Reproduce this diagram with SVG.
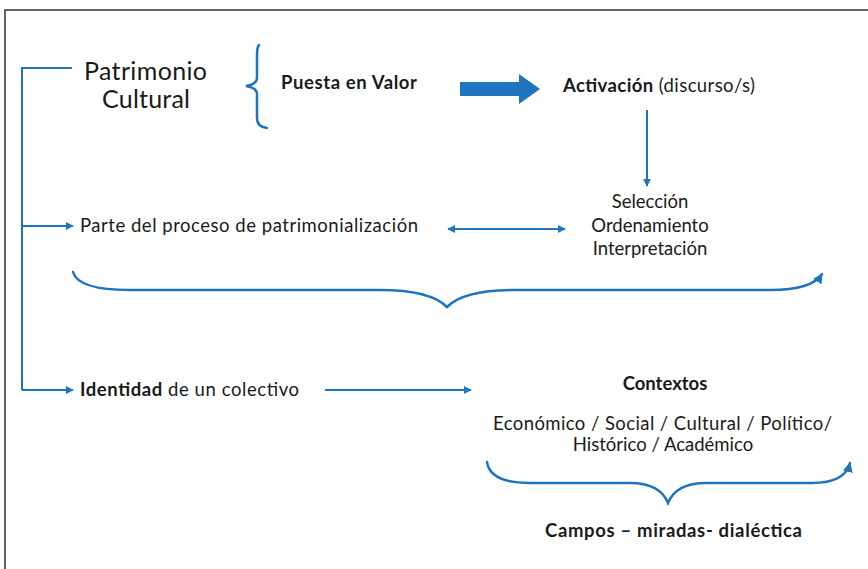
<svg xmlns="http://www.w3.org/2000/svg" width="868" height="569" viewBox="0 0 868 569">
<defs>
<style>
text{font-family:Lato,"Open Sans","Liberation Sans",sans-serif;fill:#1a1a1a;font-size:18.5px}
.b{font-weight:bold}
.big{font-size:25px}
.ln{fill:none;stroke:#1e75bd;stroke-width:2}
.br{fill:none;stroke:#1e75bd;stroke-width:2.5;stroke-linecap:round}
</style>
<marker id="ah" viewBox="0 0 10 10" refX="9" refY="5" markerWidth="4" markerHeight="4" orient="auto-start-reverse">
<path d="M0,0 L10,5 L0,10 z" fill="#1e75bd"/>
</marker>
</defs>
<rect x="5" y="10" width="870" height="570" fill="#fff" stroke="#333" stroke-width="1.5"/>
<g id="connectors">
<path class="ln" d="M72,68 H22 V390" stroke-width="1.5"/>
<path class="ln" d="M22,226 H73" stroke-width="1.5" marker-end="url(#ah)"/>
<path class="ln" d="M22,390 H73" stroke-width="1.5" marker-end="url(#ah)"/>
<path class="br" d="M259,45 Q257,47 257,55 V78 Q257,84 246,86 Q257,88 257,94 V118 Q257,127 267,128" stroke-width="2"/>
<path d="M460,82 H519 V74 L540,89 L519,104 V96 H460 Z" fill="#1e75bd"/>
<path class="ln" d="M647,110 V186" marker-end="url(#ah)"/>
<path class="ln" d="M448,229 H565" stroke-width="3" marker-start="url(#ah)" marker-end="url(#ah)"/>
<path class="br" d="M73,272 Q78,290 130,290 H380 Q430,290 447,307 Q464,290 514,290 H770 Q812,290 822,274" marker-end="url(#ah)"/>
<path class="ln" d="M325,390 H471" marker-end="url(#ah)"/>
<path class="br" d="M487,462 Q490,483 530,483 H630 Q660,483 668,503 Q676,483 706,483 H812 Q845,483 850,463" stroke-width="2" marker-end="url(#ah)"/>
</g>
<g id="patrimonio"><text x="84" y="80" class="big" textLength="123">Patrimonio</text><text x="102" y="108" class="big" textLength="88">Cultural</text></g>
<g id="puesta"><text x="281" y="89" class="b" textLength="136">Puesta en Valor</text></g>
<g id="activacion"><text x="563" y="92" textLength="192"><tspan class="b">Activación</tspan> (discurso/s)</text></g>
<g id="seleccion"><text x="650" y="208" text-anchor="middle">Selección</text><text x="650" y="232" text-anchor="middle">Ordenamiento</text><text x="650" y="255" text-anchor="middle">Interpretación</text></g>
<g id="parte"><text x="80" y="232" textLength="338">Parte del proceso de patrimonialización</text></g>
<g id="identidad"><text x="80" y="396" textLength="219"><tspan class="b">Identidad</tspan> de un colectivo</text></g>
<g id="contextos"><text x="665" y="390" class="b" text-anchor="middle">Contextos</text><text x="493" y="430" textLength="339">Económico / Social / Cultural / Político/</text><text x="663" y="451" text-anchor="middle">Histórico / Académico</text></g>
<g id="campos"><text x="545" y="537" class="b" textLength="257">Campos – miradas- dialéctica</text></g>
</svg>
